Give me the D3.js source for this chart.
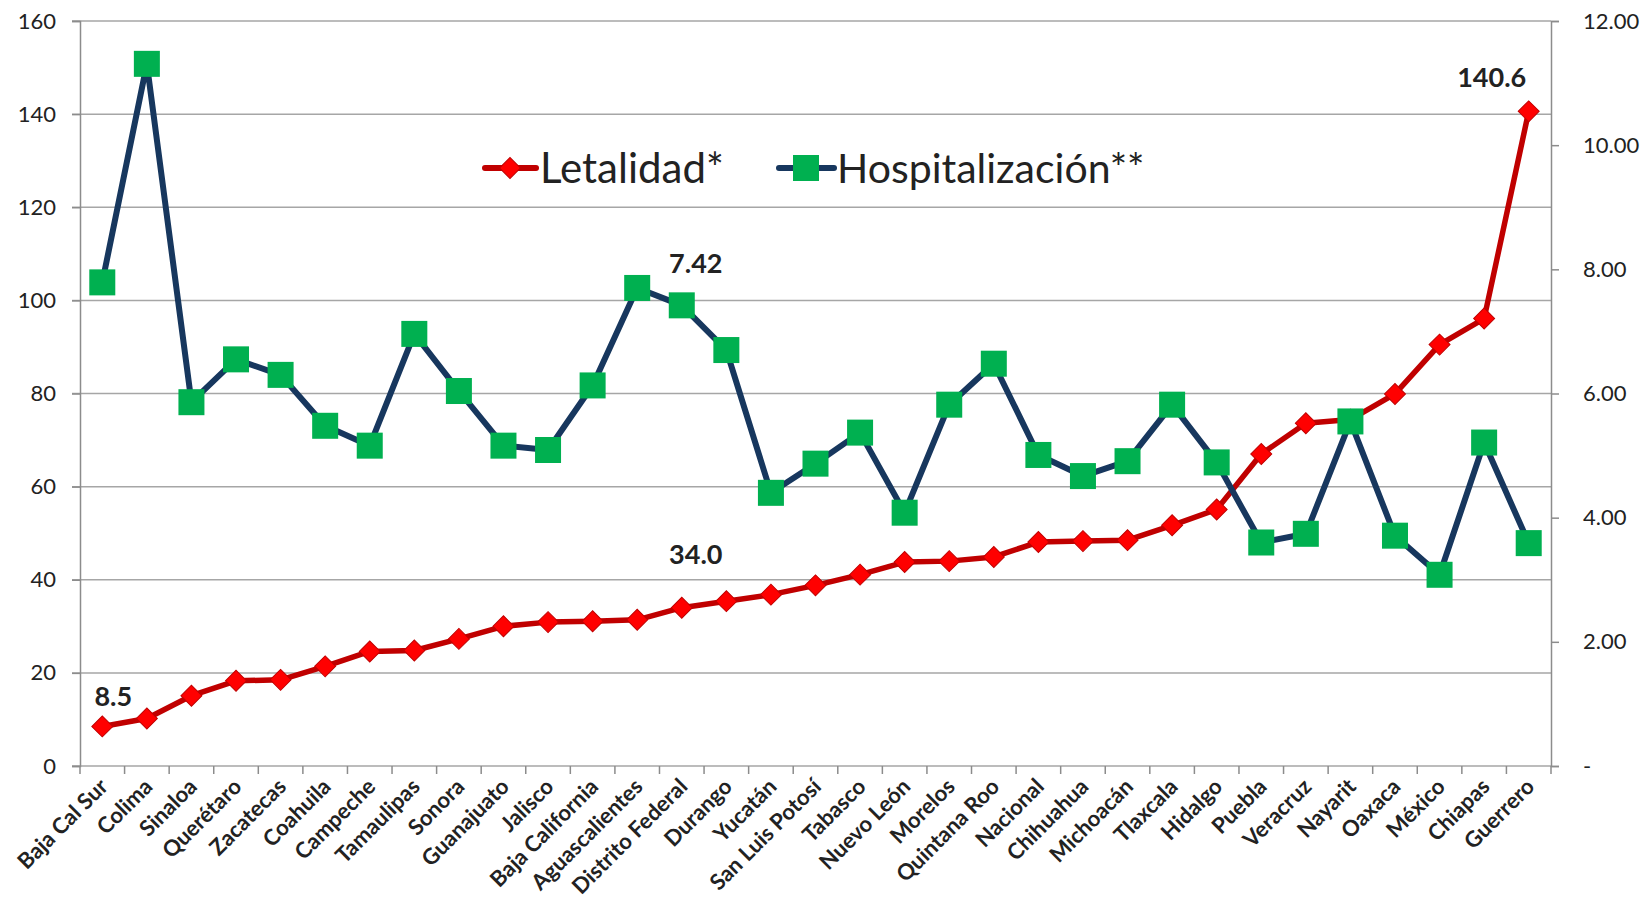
<html lang="es">
<head>
<meta charset="UTF-8">
<title>Letalidad y Hospitalización</title>
<style>
  body { margin: 0; background: #fff; }
  text { font-family: Lato, "Liberation Sans", sans-serif; fill: #222; }
</style>
</head>
<body>
<script src="https://d3js.org/d3.v7.min.js"></script>
<script>
const estados = ["Baja Cal Sur", "Colima", "Sinaloa", "Querétaro", "Zacatecas", "Coahuila", "Campeche",
  "Tamaulipas", "Sonora", "Guanajuato", "Jalisco", "Baja California", "Aguascalientes", "Distrito Federal",
  "Durango", "Yucatán", "San Luis Potosí", "Tabasco", "Nuevo León", "Morelos", "Quintana Roo", "Nacional",
  "Chihuahua", "Michoacán", "Tlaxcala", "Hidalgo", "Puebla", "Veracruz", "Nayarit", "Oaxaca", "México",
  "Chiapas", "Guerrero"]

const letalidad = [8.5, 10.2, 15.1, 18.3, 18.5, 21.4, 24.6, 24.8, 27.3, 30.0, 30.9, 31.1, 31.4, 34.0,
  35.4, 36.8, 38.8, 41.1, 43.8, 44.0, 44.9, 48.1, 48.3, 48.5, 51.7, 55.1, 67.0, 73.6, 74.4, 79.9, 90.5,
  96.1, 140.6]

const hospitalizacion = [7.79, 11.31, 5.86, 6.55, 6.30, 5.48, 5.16, 6.96, 6.04, 5.16, 5.09, 6.13, 7.70,
  7.42, 6.70, 4.40, 4.87, 5.37, 4.08, 5.82, 6.48, 5.01, 4.67, 4.91, 5.82, 4.89, 3.60, 3.74, 5.55, 3.71,
  3.08, 5.21, 3.59]

const ticksIzq = [0, 20, 40, 60, 80, 100, 120, 140, 160]
const ticksDer = [0, 2, 4, 6, 8, 10, 12]

// labelled points: [series, index, text]
const etiquetas = [
  ["let", 0, "8.5"],
  ["let", 13, "34.0"],
  ["hosp", 13, "7.42"],
  ["let", 32, "140.6"]
]

const m = { left: 80, right: 1551, top: 21, bottom: 766 }

const svg = d3.select("body").append("svg")
  .attr("width", 1647)
  .attr("height", 901)

const x = d3.scaleBand().domain(estados).range([m.left, m.right])
const cx = d => x(d) + x.bandwidth() / 2
const yL = d3.scaleLinear().domain([0, 160]).range([m.bottom, m.top])
const yR = d3.scaleLinear().domain([0, 12]).range([m.bottom, m.top])

// grid
svg.append("g").selectAll("line")
  .data(ticksIzq)
  .enter().append("line")
  .attr("x1", m.left - 8).attr("x2", m.right)
  .attr("y1", d => yL(d)).attr("y2", d => yL(d))
  .attr("stroke", "#a6a6a6").attr("stroke-width", 1.5)

// left axis
const axL = svg.append("g")
  .attr("transform", `translate(${m.left},0)`)
  .call(d3.axisLeft(yL).tickValues(ticksIzq).tickSize(8).tickPadding(16))
axL.select(".domain").attr("stroke", "#8c8c8c").attr("stroke-width", 1.5)
axL.selectAll(".tick line").attr("stroke", "#8c8c8c").attr("stroke-width", 1.5)
axL.selectAll("text").style("font-size", "22px").style("font-family", "Lato").attr("fill", "#222")

// right axis
const axR = svg.append("g")
  .attr("transform", `translate(${m.right},0)`)
  .call(d3.axisRight(yR).tickValues(ticksDer).tickSize(8).tickPadding(24)
    .tickFormat(d => d === 0 ? "-" : d.toFixed(2)))
axR.select(".domain").attr("stroke", "#8c8c8c").attr("stroke-width", 1.5)
axR.selectAll(".tick line").attr("stroke", "#8c8c8c").attr("stroke-width", 1.5)
axR.selectAll("text").style("font-size", "22px").style("font-family", "Lato").attr("fill", "#222")

// x axis ticks at category boundaries
svg.append("g").selectAll("line")
  .data(estados.map(d => x(d)).concat([m.right]))
  .enter().append("line")
  .attr("x1", d => d).attr("x2", d => d)
  .attr("y1", m.bottom).attr("y2", m.bottom + 8)
  .attr("stroke", "#8c8c8c").attr("stroke-width", 1.5)

svg.append("g").selectAll("text")
  .data(estados)
  .enter().append("text")
  .attr("transform", d => `translate(${cx(d) + 7},${m.bottom + 22}) rotate(-45)`)
  .attr("text-anchor", "end")
  .style("font-size", "22px")
  .style("font-weight", "bold")
  .text(d => d)

// Letalidad line
const lineaL = d3.line().x((d, i) => cx(estados[i])).y(d => yL(d))
svg.append("path")
  .datum(letalidad)
  .attr("d", lineaL)
  .attr("fill", "none")
  .attr("stroke", "#c00000")
  .attr("stroke-width", 5.5)
  .attr("stroke-linejoin", "round")

const rombo = d3.symbol().type(d3.symbolSquare).size(220)
svg.append("g").selectAll("path")
  .data(letalidad)
  .enter().append("path")
  .attr("d", rombo)
  .attr("transform", (d, i) => `translate(${cx(estados[i])},${yL(d)}) rotate(45)`)
  .attr("fill", "#ff0000")
  .attr("stroke", "#c00000")
  .attr("stroke-width", 1)

// Hospitalizacion line
const lineaH = d3.line().x((d, i) => cx(estados[i])).y(d => yR(d))
svg.append("path")
  .datum(hospitalizacion)
  .attr("d", lineaH)
  .attr("fill", "none")
  .attr("stroke", "#17375e")
  .attr("stroke-width", 6)
  .attr("stroke-linejoin", "round")

svg.append("g").selectAll("rect")
  .data(hospitalizacion)
  .enter().append("rect")
  .attr("x", (d, i) => cx(estados[i]) - 13)
  .attr("y", d => yR(d) - 13)
  .attr("width", 26).attr("height", 26)
  .attr("fill", "#00b050")

// data labels
const offsets = { "8.5": [11, -20], "34.0": [14, -44], "7.42": [14, -32], "140.6": [-37, -24] }
svg.append("g").selectAll("text")
  .data(etiquetas)
  .enter().append("text")
  .attr("x", d => cx(estados[d[1]]) + offsets[d[2]][0])
  .attr("y", d => (d[0] === "let" ? yL(letalidad[d[1]]) : yR(hospitalizacion[d[1]])) + offsets[d[2]][1])
  .attr("text-anchor", "middle")
  .style("font-size", "27px")
  .style("font-weight", "bold")
  .attr("fill", "#111")
  .text(d => d[2])

// legend
const leg = svg.append("g")
leg.append("line").attr("x1", 485).attr("x2", 536).attr("y1", 168).attr("y2", 168)
  .attr("stroke", "#c00000").attr("stroke-width", 6).attr("stroke-linecap", "round")
leg.append("path").attr("d", rombo).attr("transform", "translate(510,168) rotate(45)")
  .attr("fill", "#ff0000").attr("stroke", "#c00000")
leg.append("text").attr("x", 540).attr("y", 183).style("font-size", "42px").text("Letalidad*")

leg.append("line").attr("x1", 779).attr("x2", 834).attr("y1", 168).attr("y2", 168)
  .attr("stroke", "#17375e").attr("stroke-width", 6).attr("stroke-linecap", "round")
leg.append("rect").attr("x", 793).attr("y", 155).attr("width", 26).attr("height", 26).attr("fill", "#00b050")
leg.append("text").attr("x", 837).attr("y", 183).style("font-size", "41px").text("Hospitalización**")
</script>
</body>
</html>
